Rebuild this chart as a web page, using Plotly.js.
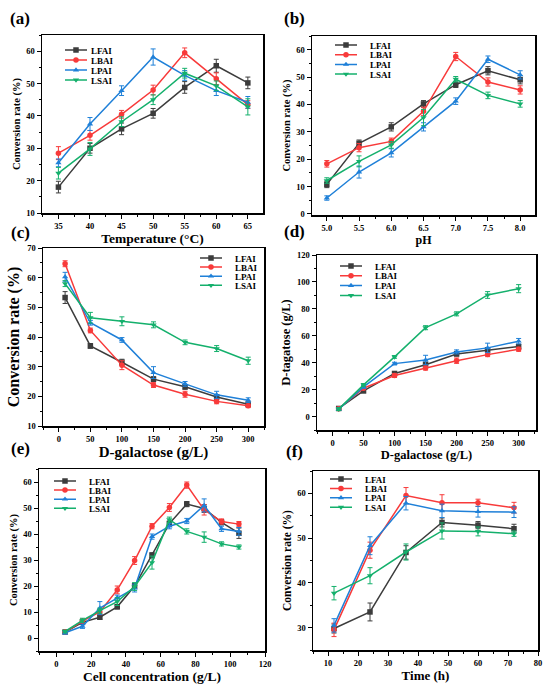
<!DOCTYPE html>
<html>
<head>
<meta charset="utf-8">
<script src="https://cdn.plot.ly/plotly-3.0.1.min.js"></script>
<style>html,body{margin:0;padding:0;background:#fff;}#plot{width:550px;height:689px;}</style>
</head>
<body>
<div id="plot"></div>
<script>
// ---------- data ----------
const seriesNames = ['LFAI', 'LBAI', 'LPAI', 'LSAI'];

// (a) Temperature
const tempX = [35, 40, 45, 50, 55, 60, 65];
const tempLFAI = [18.0, 30.0, 36.0, 40.8, 48.8, 55.5, 50.2];
const tempLBAI = [28.5, 34.0, 40.5, 48.0, 59.5, 51.5, 43.5];
const tempLPAI = [25.5, 37.5, 47.8, 58.2, 52.5, 47.8, 44.2];
const tempLSAI = [22.3, 29.8, 38.2, 45.0, 53.2, 49.3, 42.8];
const tempErrLFAI = [1.8, 1.5, 1.8, 1.5, 1.8, 2.0, 1.8];
const tempErrLBAI = [2.0, 1.5, 1.2, 1.5, 1.5, 1.8, 1.2];
const tempErrLPAI = [1.2, 2.0, 1.5, 2.5, 1.5, 1.5, 1.8];
const tempErrLSAI = [1.8, 2.0, 1.5, 1.5, 1.5, 1.5, 2.5];

// (b) pH
const phX = [5.0, 5.5, 6.0, 6.5, 7.0, 7.5, 8.0];
const phLFAI = [10.8, 25.8, 31.8, 40.2, 47.2, 52.3, 49.0];
const phLBAI = [18.3, 24.2, 26.5, 37.5, 57.5, 48.2, 45.3];
const phLPAI = [5.8, 15.3, 22.3, 31.8, 41.2, 56.5, 50.8];
const phLSAI = [12.2, 19.2, 25.2, 35.2, 49.2, 43.3, 40.2];
const phErrLFAI = [1.2, 1.2, 1.5, 1.2, 1.0, 1.5, 1.5];
const phErrLBAI = [1.2, 1.5, 1.2, 1.5, 1.5, 1.5, 1.5];
const phErrLPAI = [0.8, 2.2, 1.5, 1.5, 1.2, 1.2, 1.5];
const phErrLSAI = [1.0, 2.0, 1.2, 3.0, 1.0, 1.2, 1.2];

// (c) D-galactose vs conversion
const galX = [10, 50, 100, 150, 200, 250, 300];
const galLFAI = [53.3, 37.0, 31.5, 25.8, 23.2, 19.8, 17.3];
const galLBAI = [64.7, 42.2, 30.5, 23.8, 20.7, 18.3, 16.8];
const galLPAI = [60.3, 44.8, 39.0, 28.0, 24.2, 20.5, 18.7];
const galLSAI = [58.0, 46.5, 45.3, 44.1, 38.2, 36.1, 32.0];
const galErrLFAI = [2.0, 0.8, 1.0, 0.8, 0.8, 0.8, 0.8];
const galErrLBAI = [1.0, 0.8, 1.5, 0.8, 1.0, 0.8, 0.6];
const galErrLPAI = [1.5, 0.8, 0.8, 2.0, 0.8, 1.2, 0.8];
const galErrLSAI = [1.0, 1.8, 1.5, 1.0, 0.8, 1.0, 1.2];

// (d) D-galactose vs D-tagatose
const tagX = [10, 50, 100, 150, 200, 250, 300];
const tagLFAI = [6.0, 19.0, 32.0, 38.5, 46.5, 49.5, 52.0];
const tagLBAI = [5.8, 21.0, 30.5, 36.0, 41.5, 46.0, 50.0];
const tagLPAI = [5.5, 22.0, 39.3, 42.0, 48.0, 51.0, 56.0];
const tagLSAI = [5.5, 23.5, 44.3, 66.0, 76.3, 90.3, 95.0];
const tagErrLFAI = [1.0, 1.0, 1.0, 2.0, 1.5, 1.5, 1.5];
const tagErrLBAI = [1.0, 1.0, 1.5, 1.5, 2.0, 1.5, 1.5];
const tagErrLPAI = [1.0, 1.0, 1.0, 3.5, 1.5, 3.5, 2.0];
const tagErrLSAI = [1.0, 1.0, 1.0, 1.5, 1.5, 2.5, 3.0];

// (e) Cell concentration
const cellX = [5, 15, 25, 35, 45, 55, 65, 75, 85, 95, 105];
const cellLFAI = [2.3, 6.0, 8.0, 12.0, 20.0, 31.8, 44.0, 51.5, 49.8, 44.5, 40.3];
const cellLBAI = [2.3, 6.5, 10.0, 18.5, 29.8, 43.0, 50.2, 58.8, 49.3, 44.8, 43.8];
const cellLPAI = [2.0, 4.5, 11.5, 15.5, 19.2, 39.0, 43.0, 45.0, 51.0, 42.0, 41.0];
const cellLSAI = [2.5, 6.8, 10.5, 14.0, 19.8, 29.0, 45.5, 41.0, 38.8, 36.2, 35.0];
const cellErrLFAI = [0.5, 0.8, 0.8, 0.8, 1.0, 1.0, 1.0, 1.0, 1.5, 1.0, 2.0];
const cellErrLBAI = [0.5, 0.8, 1.0, 1.5, 1.5, 1.0, 1.5, 1.2, 2.0, 1.0, 1.0];
const cellErrLPAI = [0.5, 0.8, 2.5, 1.0, 1.5, 1.0, 1.0, 1.0, 2.5, 1.0, 1.5];
const cellErrLSAI = [0.5, 0.8, 1.0, 1.5, 1.5, 2.5, 1.0, 1.0, 2.0, 0.8, 0.8];

// (f) Time
const timeX = [12, 24, 36, 48, 60, 72];
const timeLFAI = [29.8, 33.5, 46.8, 53.5, 52.9, 52.1];
const timeLBAI = [29.5, 47.3, 59.5, 57.9, 57.9, 56.8];
const timeLPAI = [30.5, 48.3, 57.8, 56.1, 55.9, 55.8];
const timeLSAI = [37.7, 41.6, 46.9, 51.6, 51.5, 51.0];
const timeErrLFAI = [1.0, 2.0, 1.5, 1.0, 0.8, 1.0];
const timeErrLBAI = [1.5, 1.8, 1.8, 1.8, 0.8, 1.2];
const timeErrLPAI = [1.5, 2.0, 1.5, 1.5, 1.2, 1.2];
const timeErrLSAI = [1.5, 1.8, 1.8, 1.8, 1.0, 0.6];

// ---------- styles ----------
const colors = ['#3c3c3c', '#f83a3a', '#1f80d8', '#14b06c'];
const symbols = ['square', 'circle', 'triangle-up', 'triangle-down'];
const FONT = 'Liberation Serif, Times New Roman, serif';

const W = 550, H = 689;
function px2x(p) { return p / W; }
function px2y(p) { return 1 - p / H; }

const panels = [
  { x: tempX, ys: [tempLFAI, tempLBAI, tempLPAI, tempLSAI], es: [tempErrLFAI, tempErrLBAI, tempErrLPAI, tempErrLSAI],
    box: [42, 263, 35, 213], xr: [32.4, 67.4], yr: [10, 65], xd: 5, xmd: 2.5, yd: 10, ymd: 5, x0: 35, y0: 10,
    xt: 'Temperature (°C)', xts: 13.5, yt: 'Conversion rate (%)', yts: 10.5, xfmt: '',
    leg: [65, 50, 10], label: '(a)', lab: [20, 18] },
  { x: phX, ys: [phLFAI, phLBAI, phLPAI, phLSAI], es: [phErrLFAI, phErrLBAI, phErrLPAI, phErrLSAI],
    box: [312, 535, 36, 215], xr: [4.77, 8.23], yr: [-0.4, 65], xd: 0.5, xmd: 0.25, yd: 10, ymd: 5, x0: 5, y0: 0,
    xt: 'pH', xts: 12, yt: 'Conversion rate (%)', yts: 10.5, xfmt: '.1f',
    leg: [335, 45, 9.7], label: '(b)', lab: [294, 18] },
  { x: galX, ys: [galLFAI, galLBAI, galLPAI, galLSAI], es: [galErrLFAI, galErrLBAI, galErrLPAI, galErrLSAI],
    box: [43, 264, 248, 426], xr: [-25, 325], yr: [10, 70], xd: 50, xmd: 25, yd: 10, ymd: 5, x0: 0, y0: 10,
    xt: 'D-galactose (g/L)', xts: 15, yt: 'Conversion rate (%)', yts: 16, xfmt: '',
    leg: [200, 258, 9.1], label: '(c)', lab: [20, 232] },
  { x: tagX, ys: [tagLFAI, tagLBAI, tagLPAI, tagLSAI], es: [tagErrLFAI, tagErrLBAI, tagErrLPAI, tagErrLSAI],
    box: [317, 536, 255, 430], xr: [-25, 328], yr: [-10, 120], xd: 50, xmd: 25, yd: 20, ymd: 10, x0: 0, y0: 0,
    xt: 'D-galactose (g/L)', xts: 12.5, yt: 'D-tagatose (g/L)', yts: 12.5, xfmt: '',
    leg: [340, 266, 9.8], label: '(d)', lab: [294, 231] },
  { x: cellX, ys: [cellLFAI, cellLBAI, cellLPAI, cellLSAI], es: [cellErrLFAI, cellErrLBAI, cellErrLPAI, cellErrLSAI],
    box: [39, 265, 469, 651], xr: [-10, 120], yr: [-5, 65], xd: 20, xmd: 10, yd: 10, ymd: 5, x0: 0, y0: 0,
    xt: 'Cell concentration (g/L)', xts: 13.5, yt: 'Conversion rate (%)', yts: 10.5, xfmt: '',
    leg: [54, 481, 9.1], label: '(e)', lab: [20, 448] },
  { x: timeX, ys: [timeLFAI, timeLBAI, timeLPAI, timeLSAI], es: [timeErrLFAI, timeErrLBAI, timeErrLPAI, timeErrLSAI],
    box: [313, 538, 471, 650], xr: [5, 80], yr: [25, 65], xd: 10, xmd: 5, yd: 10, ymd: 5, x0: 10, y0: 30,
    xt: 'Time (h)', xts: 13, yt: 'Conversion rate (%)', yts: 11.5, xfmt: '',
    leg: [330, 479, 9.4], label: '(f)', lab: [294, 452] }
];

const traces = [];
const layout = {
  width: W, height: H, margin: { l: 0, r: 0, t: 0, b: 0 },
  paper_bgcolor: '#fff', plot_bgcolor: '#fff',
  font: { family: FONT, color: '#000', weight: 'bold' },
  annotations: []
};

const tickFont = { family: FONT, size: 8.5, color: '#000', weight: 'bold' };
const legSpacing = [];

panels.forEach((p, i) => {
  const n = i + 1;
  const xa = 'xaxis' + (n === 1 ? '' : n), ya = 'yaxis' + (n === 1 ? '' : n);
  const xref = 'x' + (n === 1 ? '' : n), yref = 'y' + (n === 1 ? '' : n);
  const legId = 'legend' + (n === 1 ? '' : n);
  const common = {
    showline: true, linecolor: '#000', linewidth: 1.5, mirror: true,
    ticks: 'outside', ticklen: 4, tickwidth: 1, tickcolor: '#000',
    showgrid: false, zeroline: false, tickfont: tickFont, automargin: false
  };
  layout[xa] = Object.assign({}, common, {
    domain: [px2x(p.box[0]), px2x(p.box[1])], range: p.xr, anchor: yref,
    tick0: p.x0, dtick: p.xd, tickformat: p.xfmt,
    minor: { ticks: 'outside', ticklen: 2, tickwidth: 1, tickcolor: '#000', dtick: p.xmd, tick0: p.x0 },
    title: { text: p.xt, font: { family: FONT, size: p.xts, color: '#000', weight: 'bold' }, standoff: 3 }
  });
  layout[ya] = Object.assign({}, common, {
    domain: [px2y(p.box[3]), px2y(p.box[2])], range: p.yr, anchor: xref,
    tick0: p.y0, dtick: p.yd,
    minor: { ticks: 'outside', ticklen: 2, tickwidth: 1, tickcolor: '#000', dtick: p.ymd, tick0: p.y0 },
    title: { text: p.yt, font: { family: FONT, size: p.yts, color: '#000', weight: 'bold' }, standoff: 3 }
  });
  layout[legId] = {
    x: px2x(p.leg[0] - 5), y: px2y(p.leg[1] - 14.5), xanchor: 'left', yanchor: 'top',
    bgcolor: 'rgba(0,0,0,0)', borderwidth: 0, tracegroupgap: 0,
    font: { family: FONT, size: 9, color: '#000', weight: 'bold' }
  };
  legSpacing.push(p.leg[2]);
  layout.annotations.push({
    xref: 'paper', yref: 'paper', x: px2x(p.lab[0]), y: px2y(p.lab[1]),
    xanchor: 'center', yanchor: 'middle', showarrow: false, text: p.label,
    font: { family: FONT, size: 17, color: '#000', weight: 'bold' }
  });
  p.ys.forEach((yv, k) => {
    traces.push({
      type: 'scatter', mode: 'lines+markers', x: p.x, y: yv, name: seriesNames[k],
      xaxis: xref, yaxis: yref, legend: legId,
      line: { color: colors[k], width: 1.5 },
      marker: { color: colors[k], symbol: symbols[k], size: 5.5 },
      error_y: { type: 'data', array: p.es[k], visible: true, color: colors[k], thickness: 1, width: 2.5 }
    });
  });
});

// tighten the legends (row spacing, shorter line samples) as in the reference
function tightenLegends() {
  const infolayer = document.querySelector('#plot g.infolayer');
  if (!infolayer) return;
  const ids = ['legend', 'legend2', 'legend3', 'legend4', 'legend5', 'legend6'];
  ids.forEach((id, i) => {
    const g = infolayer.querySelector(':scope > g.' + id);
    if (!g) return;
    const items = g.querySelectorAll('g.traces');
    let y0 = null;
    items.forEach((it, k) => {
      try {
        if (!it.hasAttribute('data-y0')) {
          const t = it.getAttribute('transform') || '';
          const m = t.match(/translate\(\s*([-\d.e]+)[ ,]+([-\d.e]+)\s*\)/);
          if (m) { it.setAttribute('data-x0', m[1]); it.setAttribute('data-yo', m[2]); }
          it.setAttribute('data-y0', '1');
        }
        const x = parseFloat(it.getAttribute('data-x0') || '0');
        const y = parseFloat(it.getAttribute('data-yo') || '0');
        if (y0 === null) y0 = y;
        it.setAttribute('transform', 'translate(' + x + ',' + (y0 + k * legSpacing[i]) + ')');
      } catch (e) {}
      it.querySelectorAll('g.legendlines path').forEach(pl => pl.setAttribute('d', 'M5,0h22'));
      it.querySelectorAll('g.legendpoints path').forEach(pt => pt.setAttribute('transform', 'translate(16,0)'));
      it.querySelectorAll('text.legendtext').forEach(tx => {
        tx.setAttribute('x', '31');
        tx.querySelectorAll('tspan').forEach(ts => { if (ts.hasAttribute('x')) ts.setAttribute('x', '31'); });
      });
    });
  });
}

const gd = document.getElementById('plot');
Plotly.newPlot(gd, traces, layout, { staticPlot: true }).then(() => {
  tightenLegends();
  gd.on && gd.on('plotly_afterplot', tightenLegends);
  setTimeout(tightenLegends, 0);
  setTimeout(tightenLegends, 100);
  requestAnimationFrame(tightenLegends);
});
</script>
</body>
</html>
